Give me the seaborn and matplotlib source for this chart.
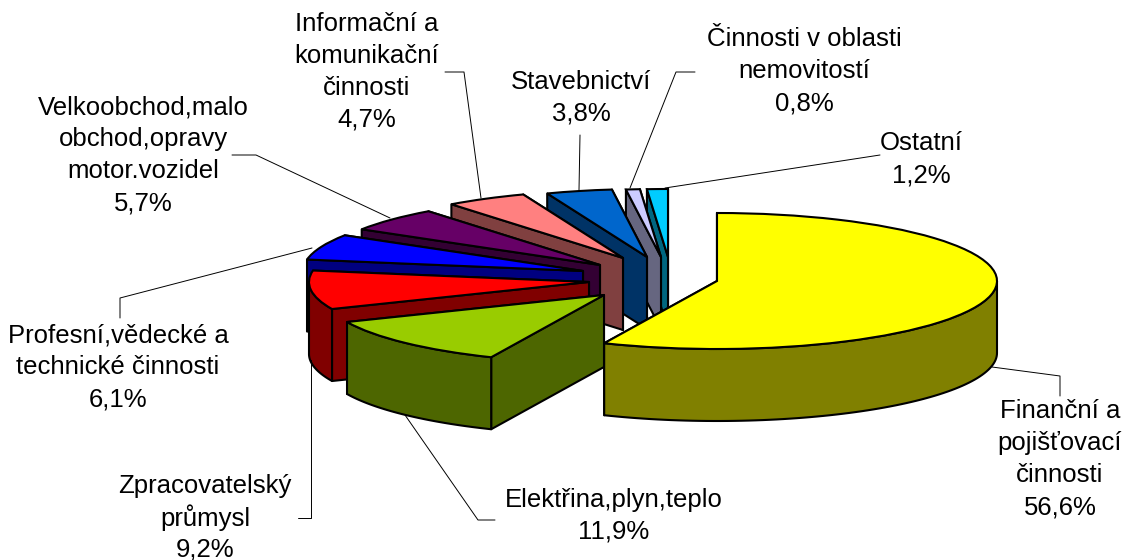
import numpy as np
import matplotlib
matplotlib.use("Agg")
import matplotlib.pyplot as plt
import seaborn as sns

sectors = ["Finanční a\npojišťovací\nčinnosti", "Elektřina,plyn,teplo", "Zpracovatelský\nprůmysl",
           "Profesní,vědecké a\ntechnické činnosti", "Velkoobchod,malo\nobchod,opravy\nmotor.vozidel",
           "Informační a\nkomunikační\nčinnosti", "Stavebnictví", "Činnosti v oblasti\nnemovitostí", "Ostatní"]
shares = [56.6, 11.9, 9.2, 6.1, 5.7, 4.7, 3.8, 0.8, 1.2]
share_labels = ["56,6%", "11,9%", "9,2%", "6,1%", "5,7%", "4,7%", "3,8%", "0,8%", "1,2%"]
top_colors = ["#FFFF00", "#99CC00", "#FF0000", "#0000FF", "#660066", "#FF8080", "#0066CC", "#CCCCFF", "#00CCFF"]

# where each exploded slice has its apex (pixels)
apex_x = [717, 604, 589, 583, 600, 623, 647, 661, 668]
apex_y = [281, 295, 282, 271, 265, 258, 257, 257, 257]
# label centre and first line y (pixels)
label_x = [1060, 614, 205, 118, 143, 367, 581, 804, 921]
label_y = [411, 500, 486, 335, 107, 24, 82, 39, 143]
leaders = [
    [(992, 367), (1060, 376), (1060, 396)],
    [(405, 415), (478, 520), (495, 520)],
    [(311, 360), (311, 518), (298, 518)],
    [(312, 248), (120, 298), (120, 318)],
    [(390, 218), (256, 155), (232, 155)],
    [(481, 198), (464, 72), (445, 72)],
    [(579, 190), (580, 135)],
    [(630, 188), (676, 72), (695, 72)],
    [(665, 188), (880, 155)],
]

RX, RY, DEPTH = 280, 68, 72

sns.set_theme(style="white")
plt.rcParams["font.family"] = ["Liberation Sans", "DejaVu Sans"]

fig = plt.figure(figsize=(11.28, 5.6), dpi=100)
ax = fig.add_axes([0, 0, 1, 1])
palette = sns.color_palette(top_colors)
walls = [tuple(v / 2 for v in c) for c in palette]

wedges, _ = ax.pie(shares, colors=palette, startangle=90, counterclock=False,
                   wedgeprops=dict(edgecolor="black", linewidth=1.5))
ax.set_aspect("auto")
ax.set_xlim(0, 1128 / RX)
ax.set_ylim(-560 / RY, 0)
ax.axis("off")

edge = dict(edgecolor="black", linewidth=1.5, joinstyle="round")
d = DEPTH / RY

# back slices first, yellow goes on top of everything
draw_order = [8, 7, 6, 5, 4, 3, 2, 1, 0]
for z, i in enumerate(draw_order):
    w = wedges[i]
    cx, cy = apex_x[i] / RX, -apex_y[i] / RY
    w.set_center((cx, cy))
    base = 10 + z * 5
    w.set_zorder(base + 3)
    # the two cut faces
    for k, th in enumerate((w.theta1, w.theta2)):
        px = cx + np.cos(np.radians(th))
        py = cy + np.sin(np.radians(th))
        ax.fill([cx, px, px, cx], [cy, py, py - d, cy - d], color=walls[i], zorder=base + k, **edge)
    # outer rim, only the part facing the viewer
    t1, t2 = max(w.theta1, -180), min(w.theta2, 0)
    if t2 > t1:
        th = np.radians(np.linspace(t1, t2, 80))
        rx = cx + np.cos(th)
        ry = cy + np.sin(th)
        ax.fill(np.r_[rx, rx[::-1]], np.r_[ry, ry[::-1] - d], color=walls[i], zorder=base + 2, **edge)

over = fig.add_axes([0, 0, 1, 1], facecolor="none")
over.set_xlim(0, 1128)
over.set_ylim(560, 0)
over.axis("off")

for line in leaders:
    xs, ys = zip(*line)
    over.plot(xs, ys, color="black", lw=0.7)

for name, val, x, y in zip(sectors, share_labels, label_x, label_y):
    for n, row in enumerate((name + "\n" + val).split("\n")):
        over.text(x, y + n * 32, row, ha="center", va="center", fontsize=18.5, color="black")

fig.savefig("out.png", dpi=100, facecolor="white")
